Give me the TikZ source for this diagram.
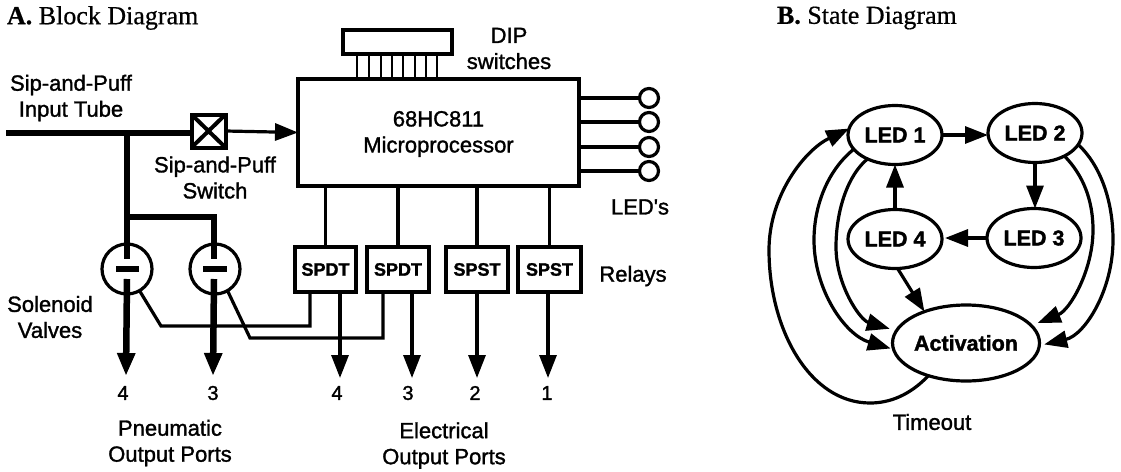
\documentclass[tikz,border=0pt]{standalone}
\usepackage{fontspec}
\usetikzlibrary{arrows.meta,shapes.geometric,calc}
\setmainfont{Liberation Serif}
\newfontfamily\lblfont[RawFeature={embolden=1.4}]{Liberation Sans}
\newfontfamily\boldlbl[RawFeature={embolden=1.6}]{Liberation Sans Bold}
\newfontfamily\ttl[RawFeature={embolden=0.6}]{Liberation Serif}
\newfontfamily\ttlb[RawFeature={embolden=0.6}]{Liberation Serif Bold}
\tikzset{
  lbl/.style={inner sep=0pt,outer sep=0pt,align=center,font=\lblfont\fontsize{22}{26}\selectfont},
  num/.style={inner sep=0pt,outer sep=0pt,font=\lblfont\fontsize{20}{24}\selectfont},
  ttlnode/.style={inner sep=0pt,outer sep=0pt,anchor=west,font=\ttl\fontsize{26}{30}\selectfont},
  box/.style={draw,line width=3.2pt,rectangle,inner sep=0pt,outer sep=0pt},
  relay/.style={box,minimum height=45pt,font=\boldlbl\fontsize{18}{22}\selectfont},
  state/.style={draw,line width=3.2pt,ellipse,inner sep=0pt,outer sep=0pt,minimum width=94pt,minimum height=59pt,font=\boldlbl\fontsize{21.5}{25}\selectfont},
  lamp/.style={draw,line width=3.2pt,circle,inner sep=0pt,outer sep=0pt,minimum size=19pt},
  valve/.style={draw,line width=3.2pt,circle,inner sep=0pt,outer sep=0pt,minimum size=50pt},
  wire/.style={line width=3.2pt},
  tube/.style={line width=6.5pt},
  shead/.style={-{Triangle[length=23pt,width=17pt,sep=0pt]}},
  ahead/.style={wire,shead,shorten >=#1},
  ahead/.default=0pt
}
\begin{document}
\begin{tikzpicture}[x=1pt,y=-1pt]
\useasboundingbox (0,0) rectangle (1121,471);
% titles
\node[ttlnode] (ta) at (7,18) {{\ttlb A.} Block Diagram};
\node[ttlnode] (tb) at (777,18) {{\ttlb B.} State Diagram};
% main blocks
\node[box,minimum width=281pt,minimum height=107pt] (mcu) at (438.5,132.5) {};
\node[lbl] (mcutext) at (438.5,134) {68HC811\\Microprocessor};
\node[box,minimum width=109pt,minimum height=24pt] (dip) at (397.5,42) {};
\node[lbl] (diptext) at (509,48.5) {DIP\\switches};
\foreach \i/\px in {1/357,2/369,3/381,4/392,5/403,6/415,7/426,8/437}
  \draw[wire,line width=2.8pt] (\px,54) -- (\px,79);
% switch
\node[box,minimum width=34pt,minimum height=33pt,line width=4pt] (sw) at (208.5,131) {};
\draw[wire,line width=4pt] (sw.north west) -- (sw.south east) (sw.north east) -- (sw.south west);
\coordinate (start) at (6,133);
\coordinate (j1) at (127,133);
\coordinate (j2) at (127,217);
\coordinate (b2) at (214,217);
\draw[tube] (start) -- (start -| sw.west);
\draw[wire,shead] (sw.east) -- (mcu.west);
% valves
\node[valve] (v1) at (127,269) {};
\node[valve] (v2) at (215,269) {};
\draw[tube] (j1) -- ($(v1)+(0,-10)$);
\draw[tube] (j2) -- (b2) -- ($(v2)+(-1,-10)$);
\draw[line width=6pt] ($(v1)+(-11,0)$) -- ($(v1)+(12,0)$);
\draw[line width=6pt] ($(v2)+(-12,0)$) -- ($(v2)+(12,0)$);
\coordinate (p1) at (126,376);
\coordinate (p2) at (213,376);
\draw[tube,shead] ($(v1)+(0,10)$) -- (p1);
\draw[tube,shead] ($(v2)+(-1,10)$) -- (p2);
% relays
\node[relay,minimum width=61pt] (r1) at (325.5,269.5) {SPDT};
\node[relay,minimum width=62pt] (r2) at (398,269.5) {SPDT};
\node[relay,minimum width=62pt] (r3) at (477,269.5) {SPST};
\node[relay,minimum width=63pt] (r4) at (549.5,269.5) {SPST};
\draw[wire] (r1.north |- mcu.south) -- (r1.north);
\draw[wire] (r2.north |- mcu.south) -- (r2.north);
\draw[wire] (r3.north |- mcu.south) -- (r3.north);
\draw[wire] (r4.north |- mcu.south) -- (r4.north);
% valve wires
\coordinate (w1a) at (161,326);
\coordinate (w1b) at (310,326);
\coordinate (w2a) at (250,338);
\coordinate (w2b) at (383,338);
\draw[wire] (v1.-60) -- (w1a) -- (w1b) -- (w1b |- r1.south);
\draw[wire] (v2.-60) -- (w2a) -- (w2b) -- (w2b |- r2.south);
% electrical outs
\coordinate (e4) at (340,378);
\coordinate (e3) at (412,378);
\coordinate (e2) at (477,378);
\coordinate (e1) at (548,378);
\foreach \e/\r in {e4/r1,e3/r2,e2/r3,e1/r4}
  \draw[wire,shead] (\e |- \r.south) -- (\e);
% LEDs
\foreach \n/\y in {1/98,2/122,3/147,4/171}{
  \node[lamp] (l\n) at (649,\y) {};
  \draw[wire] (l\n.west -| mcu.east) -- (l\n.west);
}
% labels
\node[lbl] (t1) at (71,98) {Sip-and-Puff\\Input Tube};
\node[lbl] (t2) at (215,177.5) {Sip-and-Puff\\Switch};
\node[lbl] (t3) at (50,317) {Solenoid\\Valves};
\node[lbl] (t4) at (170,443) {Pneumatic\\Output Ports};
\node[lbl] (t5) at (444,445.5) {Electrical\\Output Ports};
\node[lbl] (t6) at (633,276) {Relays};
\node[lbl] (t7) at (640,207) {LED's};
\node[num] (n1) at (123,393) {4};
\node[num] (n2) at (213,393) {3};
\node[num] (n3) at (337,393) {4};
\node[num] (n4) at (408,393) {3};
\node[num] (n5) at (475,393) {2};
\node[num] (n6) at (547,393) {1};
% state diagram
\node[state] (s1) at (895,135) {LED 1};
\node[state] (s2) at (1035,133) {LED 2};
\node[state] (s3) at (1034,238) {LED 3};
\node[state] (s4) at (895,239) {LED 4};
\node[state,minimum width=145pt,minimum height=76pt] (act) at (966,343) {Activation};
\node[lbl] (tmo) at (932,422) {Timeout};
\draw[ahead] (s1.east) -- (s1.east -| s2.west);
\draw[ahead] (s2.south) -- (s2.south |- s3.north);
\draw[ahead=3pt] (s3.west) -- (s3.west -| s4.east);
\draw[ahead] (s4.north) -- (s1.south);
\draw[ahead] (s4.-85) -- (act.143);
\draw[ahead] (act.221) .. controls (910,395) and (890,403) .. (870,403)
   .. controls (810,403) and (769,330) .. (769,250)
   .. controls (769,195) and (805,150) .. (s1.172);
\draw[ahead=3pt] (s1.199) .. controls (828,170) and (814,205) .. (814,240)
   .. controls (814,290) and (845,335) .. (act.185);
\draw[ahead=7pt] (s1.221) .. controls (848,175) and (836,210) .. (836,247)
   .. controls (836,285) and (860,320) .. (act.170);
\draw[ahead=7pt] (s2.-38) .. controls (1083,175) and (1093,200) .. (1093,230)
   .. controls (1093,270) and (1070,310) .. (act.15);
\draw[ahead=5pt] (s2.-15) .. controls (1100,165) and (1113,200) .. (1113,240)
   .. controls (1113,290) and (1085,335) .. (act.-2);
\end{tikzpicture}
\end{document}
